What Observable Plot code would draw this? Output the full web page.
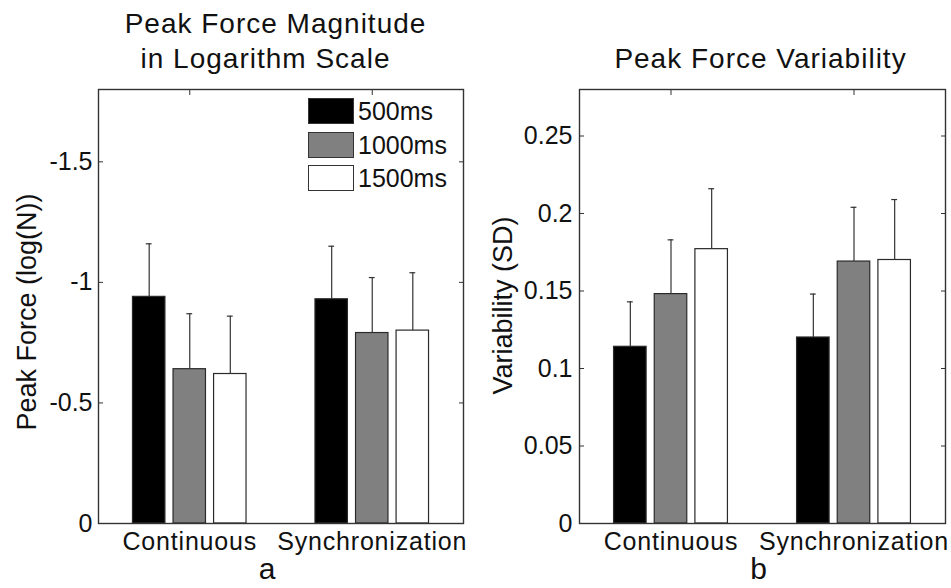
<!DOCTYPE html>
<html><head><meta charset="utf-8">
<script src="https://cdn.jsdelivr.net/npm/d3@7"></script>
<script src="https://cdn.jsdelivr.net/npm/@observablehq/plot@0.6"></script>
<style>
body{margin:0;background:#fff;}
#wrap{position:relative;width:951px;height:588px;overflow:hidden;font-family:"Liberation Sans",Arial,sans-serif;color:#111;}
#left{position:absolute;left:0;top:0;}
#right{position:absolute;left:470px;top:0;}
#legend{position:absolute;left:308px;top:98px;}
#legend .row{display:flex;align-items:flex-start;height:26px;margin-bottom:7.5px;}
#legend .sw{box-sizing:border-box;width:46px;height:26px;border:1.5px solid #333;margin-right:4px;}
#legend .lab{font-size:25px;line-height:26px;}
svg [aria-label="x-axis tick label"] text{letter-spacing:0.8px;}
</style></head>
<body><div id="wrap"><div id="left"></div><div id="right"></div><div id="legend"></div></div>
<script>
const categories = ["Continuous", "Synchronization"];
const durations = ["500ms", "1000ms", "1500ms"];
const durationColors = ["#000000", "#808080", "#ffffff"];

// Panel a: peak force magnitude (log scale)
const forceContinuous = [-0.94, -0.64, -0.62];
const forceSynchronization = [-0.93, -0.79, -0.80];
const forceSdContinuous = [0.22, 0.23, 0.24];
const forceSdSynchronization = [0.22, 0.23, 0.24];
const forceTicks = [0, -0.5, -1, -1.5];

// Panel b: peak force variability
const variabilityContinuous = [0.114, 0.148, 0.177];
const variabilitySynchronization = [0.120, 0.169, 0.170];
const variabilitySdContinuous = [0.029, 0.035, 0.039];
const variabilitySdSynchronization = [0.028, 0.035, 0.039];
const variabilityTicks = [0, 0.05, 0.1, 0.15, 0.2, 0.25];

// MATLAB-like grouped bar geometry (in x-scale units)
const groupWidth = Math.min(0.8, durations.length / (durations.length + 1.5));
const step = groupWidth / durations.length;
const barWidth = step * 0.8;
const capHalf = 0.016;

function buildRows(meansByCat, sdsByCat) {
  const rows = [];
  categories.forEach((cat, i) => {
    durations.forEach((dur, j) => {
      const mean = meansByCat[i][j];
      const sd = sdsByCat[i][j];
      rows.push({cat, dur, center: (i + 1) + (j - (durations.length - 1) / 2) * step, mean, top: mean + Math.sign(mean) * sd});
    });
  });
  return rows;
}

function panel({rows, width, marginLeft, marginRight, yDomain, yTicks, titles, yLabel, yLabelDx, yLabelDy, tickPad, letter, letterDx}) {
  const svg = Plot.plot({
    width, height: 588, marginLeft, marginRight, marginTop: 89, marginBottom: 65,
    style: {fontFamily: "Liberation Sans, Arial, sans-serif", color: "#111", background: "#fff", overflow: "visible"},
    x: {domain: [0.5, 2.5]},
    y: {domain: yDomain},
    color: {domain: durations, range: durationColors},
    marks: [
      Plot.rect(rows, {x1: d => d.center - barWidth / 2, x2: d => d.center + barWidth / 2, y1: d => 0, y2: "mean", fill: "dur", stroke: "#2a2a2a", strokeWidth: 1.2}),
      Plot.ruleX(rows, {x: "center", y1: "mean", y2: "top", stroke: "#333", strokeWidth: 1.2}),
      Plot.ruleY(rows, {y: "top", x1: d => d.center - capHalf, x2: d => d.center + capHalf, stroke: "#333", strokeWidth: 1.2}),
      Plot.axisY({anchor: "left", ticks: yTicks, tickSize: 0, tickPadding: tickPad, tickFormat: d => String(d), fontSize: 25, label: null}),
      Plot.axisY({anchor: "left", ticks: yTicks, tickSize: -5, tickFormat: () => "", label: null, stroke: "#333"}),
      Plot.axisY({anchor: "right", ticks: yTicks, tickSize: -5, tickFormat: () => "", label: null, stroke: "#333"}),
      Plot.axisX({anchor: "top", ticks: [1, 2], tickSize: -5, tickFormat: () => "", label: null, stroke: "#333"}),
      Plot.axisX({anchor: "bottom", ticks: [1, 2], tickSize: 0, tickPadding: 8.5, tickFormat: i => categories[i - 1], fontSize: 25, label: null}),
      Plot.frame({stroke: "#333", strokeWidth: 1.4}),
      ...titles.map(t => Plot.text([t.text], {text: d => d, frameAnchor: "top", lineAnchor: "middle", textAnchor: "middle", dx: t.dx, dy: t.dy, fontSize: 28})),
      Plot.text([yLabel], {text: d => d, frameAnchor: "left", lineAnchor: "middle", textAnchor: "middle", rotate: -90, dx: yLabelDx, dy: yLabelDy, fontSize: 27}),
      Plot.text([letter], {text: d => d, frameAnchor: "bottom", lineAnchor: "middle", textAnchor: "middle", dx: letterDx, dy: 46, fontSize: 30})
    ]
  });
  const titleSet = new Set(titles.map(t => t.text));
  d3.select(svg).selectAll("text")
    .filter(function() { return titleSet.has(this.textContent); })
    .style("letter-spacing", "1px");
  return svg;
}

const forceRows = buildRows([forceContinuous, forceSynchronization], [forceSdContinuous, forceSdSynchronization]);
const variabilityRows = buildRows([variabilityContinuous, variabilitySynchronization], [variabilitySdContinuous, variabilitySdSynchronization]);

document.getElementById("left").append(panel({
  rows: forceRows, width: 470, marginLeft: 98, marginRight: 7,
  yDomain: [0, -1.8], yTicks: forceTicks,
  titles: [{text: "Peak Force Magnitude", dx: -5.5, dy: -65}, {text: "in Logarithm Scale", dx: -15.5, dy: -30}],
  yLabel: "Peak Force (log(N))", yLabelDx: -71, yLabelDy: 5.5, tickPad: 6,
  letter: "a", letterDx: -14
}));

document.getElementById("right").append(panel({
  rows: variabilityRows, width: 481, marginLeft: 109, marginRight: 6,
  yDomain: [0, 0.28], yTicks: variabilityTicks,
  titles: [{text: "Peak Force Variability", dx: -2, dy: -30}],
  yLabel: "Variability (SD)", yLabelDx: -76.5, yLabelDy: -1, tickPad: 7,
  letter: "b", letterDx: -4
}));

const legend = document.getElementById("legend");
durations.forEach((d, i) => {
  const row = document.createElement("div");
  row.className = "row";
  const sw = document.createElement("div");
  sw.className = "sw";
  sw.style.background = durationColors[i];
  const lab = document.createElement("div");
  lab.className = "lab";
  lab.textContent = d;
  row.append(sw, lab);
  legend.append(row);
});
</script>
</body></html>
